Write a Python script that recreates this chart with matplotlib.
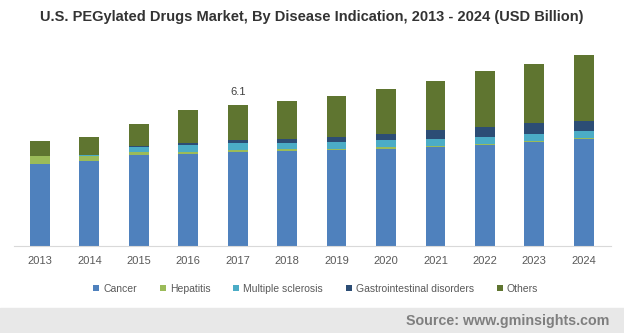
import numpy as np
import matplotlib.pyplot as plt

plt.rcParams['font.family'] = ['Liberation Sans', 'DejaVu Sans']

years = ["2013", "2014", "2015", "2016", "2017", "2018",
         "2019", "2020", "2021", "2022", "2023", "2024"]
cancer = [3.55, 3.68, 3.94, 3.98, 4.07, 4.11, 4.16, 4.20, 4.29, 4.37, 4.50, 4.63]
hepatitis = [0.35, 0.23, 0.13, 0.09, 0.09, 0.09, 0.05, 0.09, 0.05, 0.05, 0.05, 0.05]
multiple_sclerosis = [0.0, 0.04, 0.22, 0.30, 0.30, 0.26, 0.30, 0.30, 0.30, 0.30, 0.30, 0.30]
gastro = [0.0, 0.0, 0.02, 0.09, 0.13, 0.17, 0.22, 0.26, 0.39, 0.43, 0.48, 0.43]
others = [0.65, 0.78, 0.95, 1.43, 1.52, 1.65, 1.77, 1.95, 2.12, 2.42, 2.55, 2.86]

series = [
    ("Cancer", cancer, "#4F81BD"),
    ("Hepatitis", hepatitis, "#9BBB59"),
    ("Multiple sclerosis", multiple_sclerosis, "#4BACC6"),
    ("Gastrointestinal disorders", gastro, "#2C4D75"),
    ("Others", others, "#5F7530"),
]

fig = plt.figure(figsize=(6.24, 3.33), dpi=100)
ax = fig.add_axes([0.022, 0.261, 0.957, 0.625])

x = np.arange(len(years))
bottom = np.zeros(len(years))
for name, vals, col in series:
    ax.bar(x, vals, width=0.4, bottom=bottom, color=col, label=name)
    bottom += np.array(vals)

# value label for 2017
i = years.index("2017")
ax.text(x[i], bottom[i] + 0.35, f"{bottom[i]:.1f}", ha="center", va="bottom",
        fontsize=8, color="#404040")

ax.set_xlim(-0.53, 11.55)
ax.set_ylim(0, 9)
ax.set_xticks(x)
ax.set_xticklabels(years, fontsize=8, color="#595959")
ax.tick_params(axis="x", length=0, pad=7)
ax.set_yticks([])
for s in ["top", "right", "left"]:
    ax.spines[s].set_visible(False)
ax.spines["bottom"].set_color("#d9d9d9")

fig.text(0.5, 0.95, "U.S. PEGylated Drugs Market, By Disease Indication, 2013 - 2024 (USD Billion)",
         ha="center", va="center", fontsize=10.5, fontweight="bold", color="#333333")

leg = fig.legend(loc="center", bbox_to_anchor=(0.506, 0.133), ncol=5, frameon=False,
                 fontsize=7.5, handlelength=0.6, handleheight=0.6, handletextpad=0.4,
                 columnspacing=2.15, labelcolor="#595959")

# source band
fig.patches.append(plt.Rectangle((0, 0), 1, 0.075, transform=fig.transFigure,
                                 color="#e8e8e8", zorder=0))
fig.text(0.977, 0.037, "Source: www.gminsights.com", ha="right", va="center",
         fontsize=10.3, fontweight="bold", color="#7f7f7f")

plt.savefig("out.png", dpi=100)
